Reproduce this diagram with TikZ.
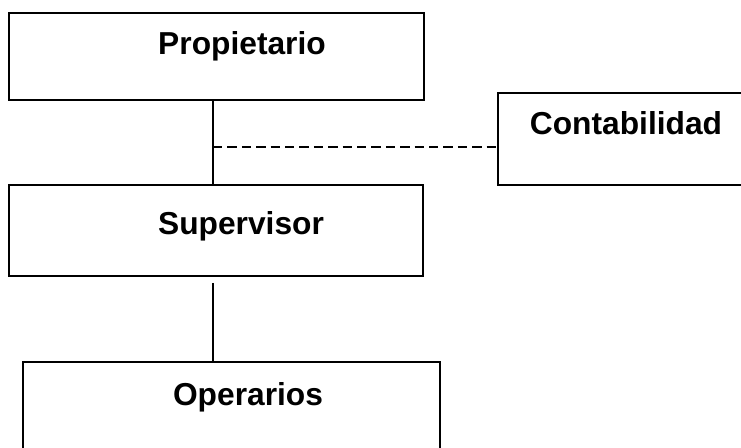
\documentclass[tikz,border=0pt]{standalone}
\usepackage{fontspec}
\setmainfont{Liberation Sans}
\usetikzlibrary{fit}
\begin{document}
\begin{tikzpicture}[x=0.75pt,y=-0.75pt,
  box/.style={draw=black,line width=1.5pt,inner sep=0pt,rectangle},
  lbl/.style={font=\fontsize{23.8}{28}\selectfont\bfseries,inner sep=0pt,anchor=base},
  conn/.style={draw=black,line width=1.2pt},
  dconn/.style={draw=black,line width=1.4pt,dash pattern=on 7pt off 3.8pt}]
\useasboundingbox (0,0) rectangle (741,448);
\clip (0,0) rectangle (741,448);
\coordinate (a) at (9,13);   \coordinate (b) at (424,100);
\coordinate (c) at (498,93); \coordinate (d) at (770,185);
\coordinate (e) at (9,185);  \coordinate (f) at (423,276);
\coordinate (g) at (23,362); \coordinate (h) at (440,480);
\node[box,fit=(a)(b)] (prop) {};
\node[box,fit=(c)(d)] (cont) {};
\node[box,fit=(e)(f)] (sup) {};
\node[box,fit=(g)(h)] (oper) {};
\node[lbl] (tprop) at (242,55) {Propietario};
\node[lbl] (tcont) at (626,135) {Contabilidad};
\node[lbl] (tsup) at (241,235) {Supervisor};
\node[lbl] (toper) at (248,405) {Operarios};
\coordinate (jx) at (213,0);
\coordinate (dj) at (213,147);
\draw[conn] (prop.south -| jx) -- (sup.north -| jx);
\draw[dconn] (dj) -- (dj -| cont.west);
\draw[conn,shorten <=4.5pt] (sup.south -| jx) -- (oper.north -| jx);
\end{tikzpicture}
\end{document}
